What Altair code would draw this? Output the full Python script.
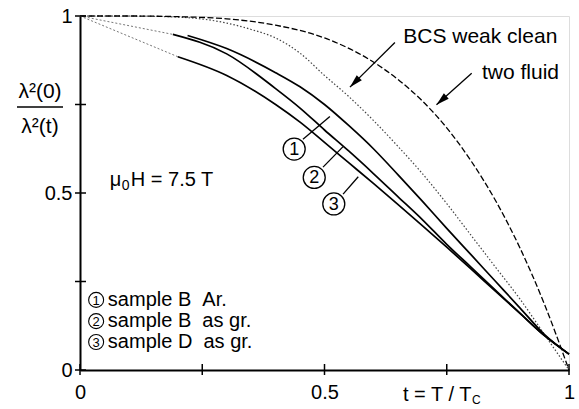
import altair as alt
import pandas as pd

FONT = "Liberation Sans"
NB = "\u00a0"

# ---------------- data ----------------
# sample curves (solid)
t_s1 = [0.22, 0.30, 0.40, 0.45, 0.50, 0.55, 0.60, 0.65, 0.70, 0.75, 0.80, 0.85, 0.90, 0.95, 1.00]
y_s1 = [0.945, 0.908, 0.840, 0.800, 0.750, 0.690, 0.625, 0.552, 0.477, 0.400, 0.325, 0.250, 0.175, 0.100, 0.045]

t_s2 = [0.19, 0.30, 0.40, 0.45, 0.50, 0.55, 0.60, 0.65, 0.70, 0.75, 0.80, 0.85, 0.90, 0.95, 1.00]
y_s2 = [0.948, 0.893, 0.795, 0.740, 0.678, 0.618, 0.555, 0.490, 0.425, 0.355, 0.290, 0.225, 0.160, 0.097, 0.045]

t_s3 = [0.20, 0.30, 0.40, 0.45, 0.50, 0.55, 0.60, 0.65, 0.70, 0.75, 0.80, 0.85, 0.90, 0.95, 1.00]
y_s3 = [0.885, 0.832, 0.750, 0.700, 0.643, 0.585, 0.527, 0.468, 0.408, 0.347, 0.285, 0.222, 0.160, 0.097, 0.045]

# BCS weak clean (dotted)
t_bcs = [0.0, 0.10, 0.20, 0.30, 0.35, 0.40, 0.45, 0.50, 0.55, 0.60, 0.65, 0.70, 0.75, 0.80, 0.85, 0.90, 0.95, 1.00]
y_bcs = [1.0, 1.0, 0.997, 0.980, 0.962, 0.938, 0.895, 0.832, 0.772, 0.705, 0.632, 0.555, 0.470, 0.380, 0.290, 0.200, 0.100, 0.0]

# two fluid (dashed)
t_tf = [0.0, 0.10, 0.20, 0.30, 0.40, 0.50, 0.60, 0.65, 0.70, 0.75, 0.80, 0.85, 0.90, 0.95, 1.00]
y_tf = [1.0, 1.0, 0.998, 0.992, 0.974, 0.938, 0.870, 0.821, 0.760, 0.684, 0.590, 0.478, 0.344, 0.185, 0.0]

# extrapolations to t = 0 (thin dotted)
ext_t = [0.0, 0.19, 0.0, 0.20]
ext_y = [1.0, 0.948, 1.0, 0.885]
ext_id = ["a", "a", "b", "b"]

# ticks
tick_vals = [0.0, 0.25, 0.5, 0.75, 1.0]
label_vals = [0.0, 0.5, 1.0]

# annotation arrows (start -> tip)
arr_t = [0.644, 0.801]
arr_y = [0.925, 0.838]
arr_t2 = [0.552, 0.729]
arr_y2 = [0.799, 0.749]
arr_ang = [225, 228]

# annotation texts
ann_text = ["BCS weak clean", "two fluid"]
ann_t = [0.661, 0.822]
ann_y = [0.941, 0.839]

# circled labels near curves
circ_lab = ["1", "2", "3"]
circ_t = [0.438, 0.479, 0.519]
circ_y = [0.624, 0.544, 0.469]
lead_t = [0.456, 0.497, 0.538]
lead_y = [0.652, 0.573, 0.497]
lead_t2 = [0.511, 0.538, 0.569]
lead_y2 = [0.716, 0.631, 0.546]

# legend
leg_lab = ["1", "2", "3"]
leg_text = ["sample B" + NB + NB + "Ar.", "sample B" + NB + NB + "as gr.", "sample D" + NB + NB + "as gr."]
leg_y = [0.198, 0.138, 0.079]
leg_ct = 0.033
leg_tt = 0.057

# ---------------- tables ----------------
def curve(ts, ys):
    return pd.DataFrame({"t": ts, "y": ys})

xs = alt.Scale(domain=[0, 1], nice=False, zero=False)
ys = alt.Scale(domain=[0, 1], nice=False, zero=False)

X = lambda f="t": alt.X(f"{f}:Q", scale=xs, title=None)
Y = lambda f="y": alt.Y(f"{f}:Q", scale=ys, title=None)

axes = alt.Chart(pd.DataFrame({"t": [0.0], "y": [0.0]})).mark_point(opacity=0).encode(
    x=alt.X("t:Q", scale=xs, title=None,
            axis=alt.Axis(values=label_vals, ticks=False, grid=False, domainColor="black",
                          domainWidth=2, labelFont=FONT, labelFontSize=20, labelColor="black",
                          labelPadding=12, labelFlush=False, format="~g")),
    y=alt.Y("y:Q", scale=ys, title=None,
            axis=alt.Axis(values=label_vals, ticks=False, grid=False, domainColor="black",
                          domainWidth=2, labelFont=FONT, labelFontSize=20, labelColor="black",
                          labelPadding=8, labelFlush=False, format="~g")),
)

xticks = alt.Chart(pd.DataFrame({"t": tick_vals})).mark_rule(color="black", strokeWidth=1.5).encode(
    x=X(), y=alt.value(348), y2=alt.value(359))
yticks = alt.Chart(pd.DataFrame({"y": tick_vals})).mark_rule(color="black", strokeWidth=1.5).encode(
    y=Y(), x=alt.value(-5), x2=alt.value(6))

def solid(ts, ys_):
    return alt.Chart(curve(ts, ys_)).mark_line(color="black", strokeWidth=1.7, interpolate="monotone").encode(
        x=X(), y=Y())

s1 = solid(t_s1, y_s1)
s2 = solid(t_s2, y_s2)
s3 = solid(t_s3, y_s3)

bcs = alt.Chart(curve(t_bcs, y_bcs)).mark_line(color="#444444", strokeWidth=1.2, strokeDash=[1.5, 2],
                                               interpolate="monotone").encode(x=X(), y=Y())
tf = alt.Chart(curve(t_tf, y_tf)).mark_line(color="black", strokeWidth=1.3, strokeDash=[6, 2.5],
                                            interpolate="monotone").encode(x=X(), y=Y())
ext = alt.Chart(pd.DataFrame({"t": ext_t, "y": ext_y, "id": ext_id})).mark_line(
    color="#777777", strokeWidth=1, strokeDash=[2, 2]).encode(x=X(), y=Y(), detail="id:N")

arr_df = pd.DataFrame({"t": arr_t, "y": arr_y, "t2": arr_t2, "y2": arr_y2, "ang": arr_ang})
arrows = alt.Chart(arr_df).mark_rule(color="black", strokeWidth=1.3).encode(
    x=X(), y=Y(), x2="t2:Q", y2="y2:Q")
heads = alt.Chart(arr_df).mark_point(shape="M0,0L0.6,2.2L-0.6,2.2Z", filled=True, color="black",
                                     opacity=1, size=144).encode(
    x=X("t2"), y=Y("y2"), angle=alt.Angle("ang:Q", scale=None))

ann = alt.Chart(pd.DataFrame({"t": ann_t, "y": ann_y, "txt": ann_text})).mark_text(
    align="left", baseline="middle", font=FONT, fontSize=21, color="black").encode(
    x=X(), y=Y(), text="txt:N")

circ_df = pd.DataFrame({"t": circ_t, "y": circ_y, "lab": circ_lab})
circ = alt.Chart(circ_df).mark_point(shape="circle", filled=False, color="black", strokeWidth=1.3,
                                     size=484, opacity=1).encode(x=X(), y=Y())
circ_txt = alt.Chart(circ_df).mark_text(font=FONT, fontSize=18, color="black", baseline="middle",
                                        align="center", dy=1).encode(x=X(), y=Y(), text="lab:N")
leads = alt.Chart(pd.DataFrame({"t": lead_t, "y": lead_y, "t2": lead_t2, "y2": lead_y2})).mark_rule(
    color="black", strokeWidth=1.3).encode(x=X(), y=Y(), x2="t2:Q", y2="y2:Q")

leg_df = pd.DataFrame({"ct": [leg_ct] * 3, "tt": [leg_tt] * 3, "y": leg_y, "lab": leg_lab, "txt": leg_text})
leg_c = alt.Chart(leg_df).mark_point(shape="circle", filled=False, color="black", strokeWidth=1.1,
                                     size=225, opacity=1).encode(x=X("ct"), y=Y())
leg_n = alt.Chart(leg_df).mark_text(font=FONT, fontSize=13, color="black", baseline="middle",
                                    align="center", dy=1).encode(x=X("ct"), y=Y(), text="lab:N")
leg_t = alt.Chart(leg_df).mark_text(font=FONT, fontSize=20, color="black", baseline="middle",
                                    align="left").encode(x=X("tt"), y=Y(), text="txt:N")

# field label mu0 H = 7.5 T
mu_df = pd.DataFrame({"t": [0.061], "y": [0.537]})
mu = alt.Chart(mu_df).mark_text(text="μ", font=FONT, fontSize=20, color="black", align="left",
                                baseline="middle").encode(x=X(), y=Y())
mu0 = alt.Chart(mu_df).mark_text(text="0", font=FONT, fontSize=14, color="black", align="left",
                                 baseline="middle", dx=12, dy=6).encode(x=X(), y=Y())
muH = alt.Chart(mu_df).mark_text(text="H = 7.5 T", font=FONT, fontSize=20, color="black", align="left",
                                 baseline="middle", dx=21).encode(x=X(), y=Y())

one = alt.Data(values=[{"a": 1}])
def ptext(txt, x, y, size, align="left", baseline="alphabetic"):
    return alt.Chart(one).mark_text(text=txt, font=FONT, fontSize=size, color="black",
                                    align=align, baseline=baseline).encode(
        x=alt.value(x), y=alt.value(y))

xt1 = ptext("t = T / T", 323, 385, 20)
xt2 = ptext("C", 392, 388, 12)
yt1 = ptext("λ²(0)", -40, 82, 21, align="center")
yt2 = ptext("λ²(t)", -40, 117, 21, align="center")
frac = alt.Chart(one).mark_rule(color="black", strokeWidth=1.5).encode(
    x=alt.value(-63), x2=alt.value(-17), y=alt.value(91))

chart = alt.layer(
    axes, xticks, yticks, ext, bcs, tf, s1, s2, s3, arrows, heads, ann, leads, circ, circ_txt,
    leg_c, leg_n, leg_t, mu, mu0, muH, xt1, xt2, yt1, yt2, frac
).properties(
    width=489, height=354,
    autosize=alt.AutoSizeParams(type="none"),
    padding={"left": 80, "top": 16, "right": 10, "bottom": 39},
).configure_view(stroke="black", strokeWidth=1.5).configure(background="white")

chart.save("out.html", embed_options={"renderer": "svg", "actions": False})
